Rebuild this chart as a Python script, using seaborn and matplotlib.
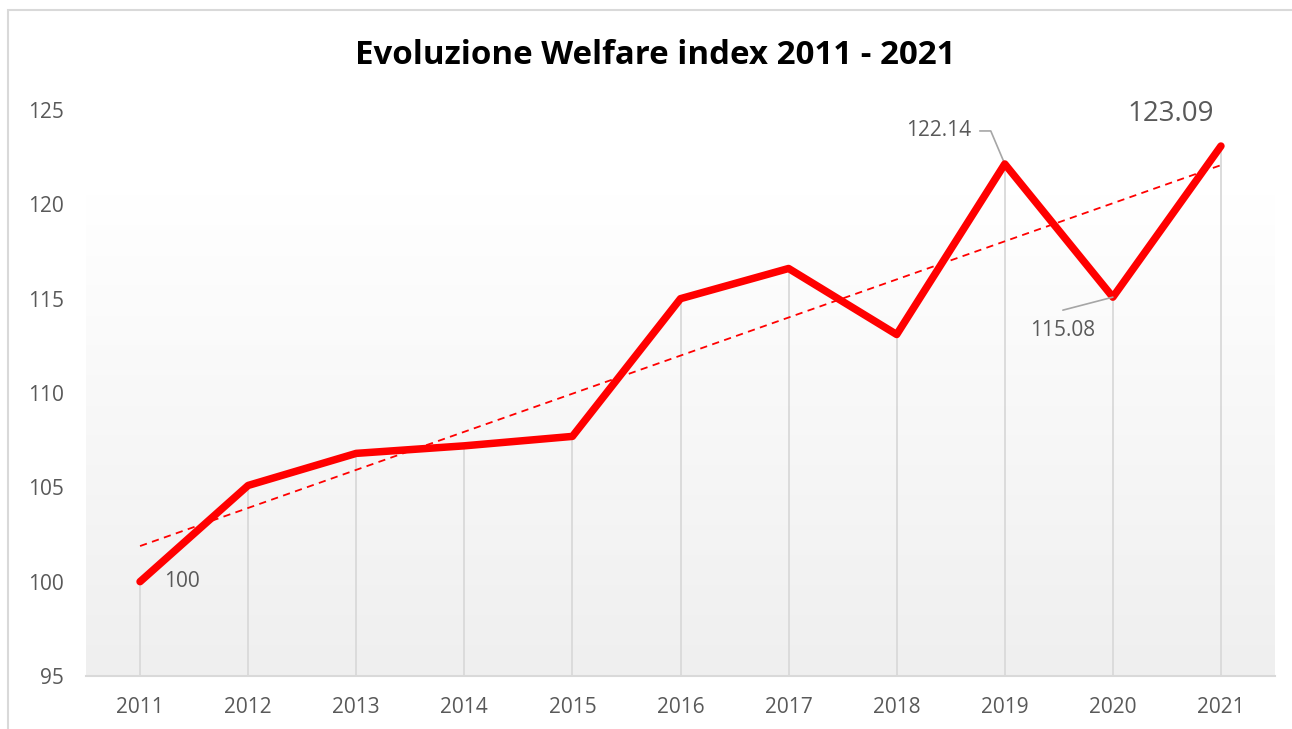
import numpy as np
import pandas as pd
import matplotlib
matplotlib.use("Agg")
import matplotlib.pyplot as plt
import seaborn as sns
from matplotlib.patches import Rectangle
from matplotlib.colors import LinearSegmentedColormap
from matplotlib.transforms import offset_copy

years = ["2011", "2012", "2013", "2014", "2015", "2016", "2017", "2018", "2019", "2020", "2021"]
values = [100, 105.1, 106.8, 107.2, 107.7, 115.0, 116.6, 113.1, 122.14, 115.08, 123.09]
yticks = [95, 100, 105, 110, 115, 120, 125]
title = "Evoluzione Welfare index 2011 - 2021"

sns.set_theme(style="white")
plt.rcParams["font.family"] = ["Open Sans", "DejaVu Sans"]

df = pd.DataFrame({"pos": np.arange(len(years)), "value": values})

fig = plt.figure(figsize=(12.92, 7.29), dpi=100)
fig.patch.set_facecolor("white")
ax = fig.add_axes([86 / 1292, 1 - 676 / 729, (1275 - 86) / 1292, (676 - 110) / 729])
ax.set_facecolor("white")

# chart border
fig.patches.append(Rectangle((8 / 1292, -0.1), 1.2, 1 - 10 / 729 + 0.1, transform=fig.transFigure,
                             fill=False, edgecolor="#d9d9d9", linewidth=1.5, zorder=0))

# gradient background
grad = np.linspace(0, 1, 256).reshape(-1, 1)
cmap = LinearSegmentedColormap.from_list("g", [(0, "#efefef"), (0.85, "#ffffff"), (1, "#ffffff")])
ax.imshow(grad, aspect="auto", cmap=cmap, extent=[-0.5, 10.5, 95, 125], origin="lower", zorder=0)

# drop lines
ax.vlines(df["pos"], 95, df["value"], color="#d9d9d9", linewidth=1.3, zorder=1)

# trendline
coef = np.polyfit(df["pos"], df["value"], 1)
trend = np.polyval(coef, df["pos"])
ax.plot(df["pos"], trend, color="#ff0000", linestyle=(0, (4, 3)), linewidth=1.3, zorder=2)

sns.lineplot(data=df, x="pos", y="value", ax=ax, color="#ff0000", linewidth=5.4,
             solid_capstyle="round", solid_joinstyle="round", zorder=3)

ax.set_xlim(-0.5, 10.5)
ax.set_ylim(95, 125)
ax.set_xticks(df["pos"])
ax.set_xticklabels(years)
ax.set_yticks(yticks)
ax.set_xlabel("")
ax.set_ylabel("")
for s in ["top", "right", "left"]:
    ax.spines[s].set_visible(False)
ax.spines["bottom"].set_color("#d9d9d9")
ax.spines["bottom"].set_linewidth(1.5)
ax.spines["bottom"].set_zorder(1)
ax.tick_params(axis="both", length=0, labelsize=15, labelcolor="#595959")
ax.tick_params(axis="y", pad=16)
ax.tick_params(axis="x", pad=15)

fig.text(655 / 1292, 1 - 55 / 729, title, ha="center", va="center", fontsize=23.8, fontweight="bold", color="black")

lc = "#595959"
leader = "#a6a6a6"
# labels
ax.annotate("100", xy=(0, 100), xytext=(17, 0), textcoords="offset points", ha="left", va="center",
            fontsize=15, color=lc)

# 122.14 label with elbow leader
ax.annotate("122.14", xy=(8, 122.14), xytext=(938 - 1004, -(129 - 162)), textcoords="offset pixels",
            ha="center", va="center", fontsize=15, color=lc)
lx = [offset_copy(ax.transData, fig=fig, x=dx, y=dy, units="dots") for dx, dy in [(979 - 1004, 162 - 129), (990 - 1004, 162 - 129)]]
p1 = ax.transData.inverted().transform(lx[0].transform((8, 122.14)))
p2 = ax.transData.inverted().transform(lx[1].transform((8, 122.14)))
ax.plot([p1[0], p2[0], 8], [p1[1], p2[1], 122.14], color=leader, linewidth=1.2, zorder=2)

# 115.08 label with leader
ax.annotate("115.08", xy=(9, 115.08), xytext=(1063 - 1113, -(330 - 297)), textcoords="offset pixels",
            ha="center", va="center", fontsize=15, color=lc)
ax.annotate("", xy=(9, 115.08), xytext=(1063 - 1113, -(310 - 297)), textcoords="offset pixels",
            arrowprops=dict(arrowstyle="-", color=leader, lw=1.2, shrinkA=0, shrinkB=0))

ax.annotate("123.09", xy=(10, 123.09), xytext=(1171 - 1221, -(115 - 147)), textcoords="offset pixels",
            ha="center", va="center", fontsize=20, color=lc)

fig.savefig("out.png", dpi=100)
